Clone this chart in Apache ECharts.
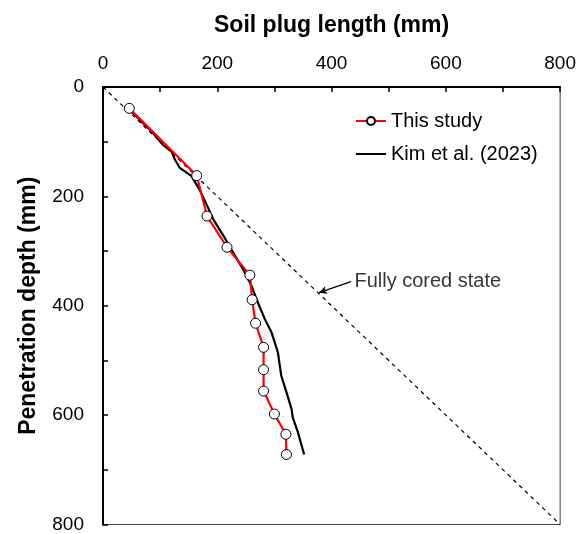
<!DOCTYPE html>
<html><head><meta charset="utf-8">
<script src="https://cdn.jsdelivr.net/npm/echarts@6/dist/echarts.min.js"></script>
<style>html,body{margin:0;padding:0;background:#fff}#c{width:579px;height:534px}</style>
</head><body><div id="c"></div>
<script>
// This study: [soil plug length, penetration depth]
const studyPlug  = [46,164,182,217,257,261,267,281,281,281,300,320,321];
const studyDepth = [39,162,236,293,344,389,432,476,517,556,598,635,672];
// Kim et al. (2023)
const kimPlug  = [46,65,85,105,120,126,134.5,155,169,184,193,213,228,245,260,271,283,295,306,312,321,330,332,341,352];
const kimDepth = [40,61,81,106,118,133,148,163,188,221,242,276,303,333,364,394,424,449,485,528,558,589,604,631,672];
// Fully cored reference line
const fullPlug = [0,800];
const fullDepth = [0,800];
const xTicks = [0,200,400,600,800];
const yTicks = [0,200,400,600,800];

const zip = (a,b)=>a.map((v,i)=>[v,b[i]]);
const font = 'Arial, "Liberation Sans", sans-serif';
const chart = echarts.init(document.getElementById('c'));
chart.setOption({
  animation:false,
  backgroundColor:'#fff',
  grid:{left:103,top:87,width:458,height:439,show:true,borderColor:'#444',borderWidth:1},
  xAxis:{type:'value',position:'top',min:xTicks[0],max:xTicks[xTicks.length-1],interval:200,
    name:'Soil plug length (mm)',nameLocation:'middle',nameGap:50,
    nameTextStyle:{fontFamily:font,fontSize:23,fontWeight:'bold',color:'#000'},
    axisLine:{lineStyle:{color:'#000',width:2}},
    axisTick:{inside:true,length:5,lineStyle:{color:'#000',width:1.5}},
    minorTick:{show:true,splitNumber:2,length:5,lineStyle:{color:'#000',width:1.5}},
    axisLabel:{fontFamily:font,fontSize:19,color:'#000',margin:14},
    splitLine:{show:false}},
  yAxis:{type:'value',inverse:true,min:yTicks[0],max:yTicks[yTicks.length-1],interval:200,
    name:'Penetration depth (mm)',nameLocation:'middle',nameGap:63,
    nameTextStyle:{fontFamily:font,fontSize:23,fontWeight:'bold',color:'#000'},
    axisLine:{lineStyle:{color:'#000',width:2}},
    axisTick:{inside:true,length:5,lineStyle:{color:'#000',width:1.5}},
    minorTick:{show:true,splitNumber:2,length:5,lineStyle:{color:'#000',width:1.5}},
    axisLabel:{fontFamily:font,fontSize:19,color:'#000',margin:19},
    splitLine:{show:false}},
  legend:{orient:'vertical',left:350,top:106,itemWidth:30,itemHeight:10,itemGap:13,
    textStyle:{fontFamily:font,fontSize:20,color:'#000'},
    data:[{name:'This study'},{name:'Kim et al. (2023)',itemStyle:{opacity:0}}]},
  series:[
    {name:'Fully cored',type:'line',data:zip(fullPlug,fullDepth),symbol:'none',
     lineStyle:{color:'#000',width:1.2,type:[4,4]},z:1,
     markLine:{silent:true,symbol:['none','arrow'],symbolSize:[6,8],
       lineStyle:{color:'#000',width:1.2,type:'solid'},label:{show:false},
       data:[[{coord:[434,356]},{coord:[378,376]}]]}},
    {name:'label',type:'scatter',data:[[440,355]],symbolSize:0,
     label:{show:true,position:'right',distance:0,formatter:'Fully cored state',fontFamily:font,fontSize:20,color:'#000'},z:1},
    {name:'Kim et al. (2023)',type:'line',data:zip(kimPlug,kimDepth),symbol:'none',
     lineStyle:{color:'#000',width:2.2},itemStyle:{color:'#000'},z:3},
    {name:'This study',type:'line',data:zip(studyPlug,studyDepth),symbol:'circle',symbolSize:10,
     lineStyle:{color:'#ff0000',width:2.2},
     itemStyle:{color:'#fff',borderColor:'#000',borderWidth:1},z:4}
  ]
});
</script></body></html>
